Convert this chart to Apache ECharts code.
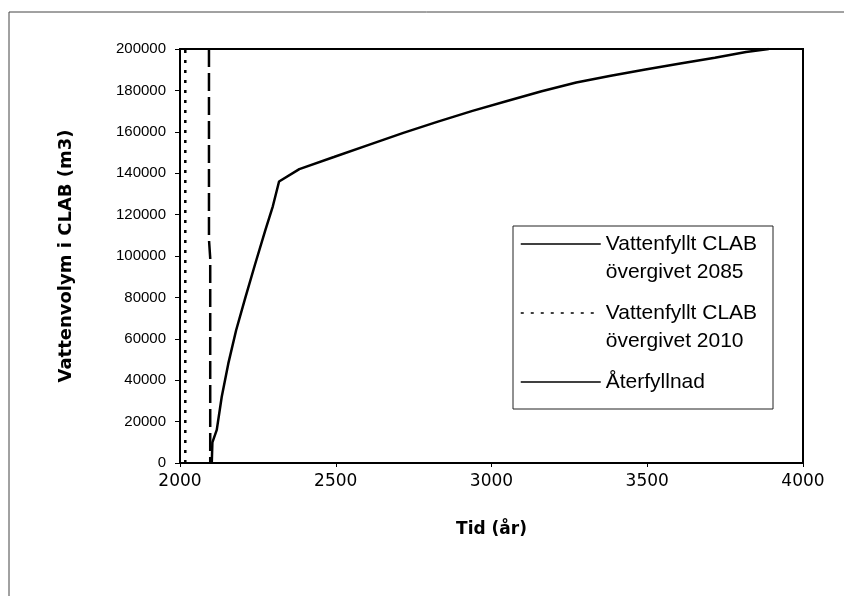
<!DOCTYPE html>
<html>
<head>
<meta charset="utf-8">
<script src="https://cdn.jsdelivr.net/npm/echarts@6/dist/echarts.min.js"></script>
<style>
html,body{margin:0;padding:0;background:#fff;}
#chart{width:844px;height:596px;}
</style>
</head>
<body>
<div id="chart"></div>
<script>
// ---- data ----
const seriesNames = ['Vattenfyllt CLAB övergivet 2085', 'Vattenfyllt CLAB övergivet 2010', 'Återfyllnad'];
const legendLabels = ['Vattenfyllt CLAB\növergivet 2085', 'Vattenfyllt CLAB\növergivet 2010', 'Återfyllnad'];
const xTicks = [2000, 2500, 3000, 3500, 4000];
const yTicks = [0, 20000, 40000, 60000, 80000, 100000, 120000, 140000, 160000, 180000, 200000];

const abandoned2085 = [[2093, 200000], [2093, 108000], [2097, 99000], [2097, 0]];
const abandoned2010 = [[2017, 0], [2017, 200000]];
const backfillYears = [2102, 2104, 2118, 2134, 2155, 2180, 2210, 2242, 2274, 2298, 2318, 2383, 2494, 2606, 2717, 2828, 2939, 3050, 3161, 3272, 3383, 3494, 3606, 3717, 3817, 3890];
const backfillVolume = [0, 10000, 16000, 32000, 48000, 64000, 80000, 96500, 112500, 124000, 136000, 142000, 147800, 153700, 159500, 164900, 170100, 174900, 179600, 183800, 187100, 190100, 193000, 195800, 198600, 200000];

const chart = echarts.init(document.getElementById('chart'), null, {renderer: 'canvas'});
const backfill = backfillYears.map((y, i) => [y, backfillVolume[i]]);
const labelMap = {};
seriesNames.forEach((n, i) => { labelMap[n] = '\n' + legendLabels[i] + (legendLabels[i].indexOf('\n') < 0 ? '\n' : ''); });

const option = {
  animation: false,
  backgroundColor: '#fff',
  grid: {left: 180, right: 41, top: 49, bottom: 133, show: true, borderColor: '#000', borderWidth: 2, backgroundColor: 'transparent'},
  xAxis: {
    type: 'value', min: xTicks[0], max: xTicks[xTicks.length - 1], interval: 500,
    name: 'Tid (år)', nameLocation: 'middle', nameGap: 58,
    nameTextStyle: {fontFamily: 'DejaVu Sans', fontWeight: 'bold', fontSize: 17, color: '#000'},
    axisLine: {show: true, lineStyle: {color: '#000', width: 2}},
    axisTick: {show: true, length: 4, lineStyle: {color: '#000'}},
    axisLabel: {fontFamily: 'DejaVu Sans', fontSize: 17, color: '#000', margin: 10, formatter: v => String(v)},
    splitLine: {show: false}
  },
  yAxis: {
    type: 'value', min: yTicks[0], max: yTicks[yTicks.length - 1], interval: 20000,
    name: 'Vattenvolym i CLAB (m3)', nameLocation: 'middle', nameGap: 105,
    nameTextStyle: {fontFamily: 'DejaVu Sans', fontWeight: 'bold', fontSize: 18, color: '#000'},
    axisLine: {show: true, lineStyle: {color: '#000', width: 2}},
    axisTick: {show: true, length: 5, lineStyle: {color: '#000'}},
    axisLabel: {fontFamily: 'Liberation Sans, Arial', fontSize: 15, color: '#000', margin: 14, formatter: v => String(v)},
    splitLine: {show: false}
  },
  legend: {
    orient: 'vertical', left: 520, top: 202, padding: 0,
    itemWidth: 80, itemHeight: 14, itemGap: -15,
    data: [
      {name: seriesNames[0], lineStyle: {type: 'solid'}},
      {name: seriesNames[1]},
      {name: seriesNames[2]}
    ],
    lineStyle: {width: 1.5},
    itemStyle: {opacity: 0},
    formatter: name => labelMap[name],
    textStyle: {fontFamily: 'Liberation Sans, Arial', fontSize: 21, lineHeight: 28, color: '#000'}
  },
  graphic: [
    {type: 'line', shape: {x1: 9, y1: 12, x2: 844, y2: 12}, style: {stroke: '#444', lineWidth: 1}},
    {type: 'line', shape: {x1: 9, y1: 12, x2: 9, y2: 596}, style: {stroke: '#444', lineWidth: 1}},
    {type: 'rect', shape: {x: 513, y: 226, width: 260, height: 183}, style: {fill: 'transparent', stroke: '#222', lineWidth: 1}, z: 10}
  ],
  series: [
    {name: seriesNames[0], type: 'line', data: abandoned2085, symbol: 'none', lineStyle: {color: '#000', width: 2.5, type: [18, 6]}, itemStyle: {color: '#000'}},
    {name: seriesNames[1], type: 'line', data: abandoned2010, symbol: 'none', lineStyle: {color: '#000', width: 2.5, type: [3, 7]}, itemStyle: {color: '#000'}},
    {name: seriesNames[2], type: 'line', data: backfill, symbol: 'none', lineStyle: {color: '#000', width: 2.5}, itemStyle: {color: '#000'}}
  ]
};
chart.setOption(option);
</script>
</body>
</html>
